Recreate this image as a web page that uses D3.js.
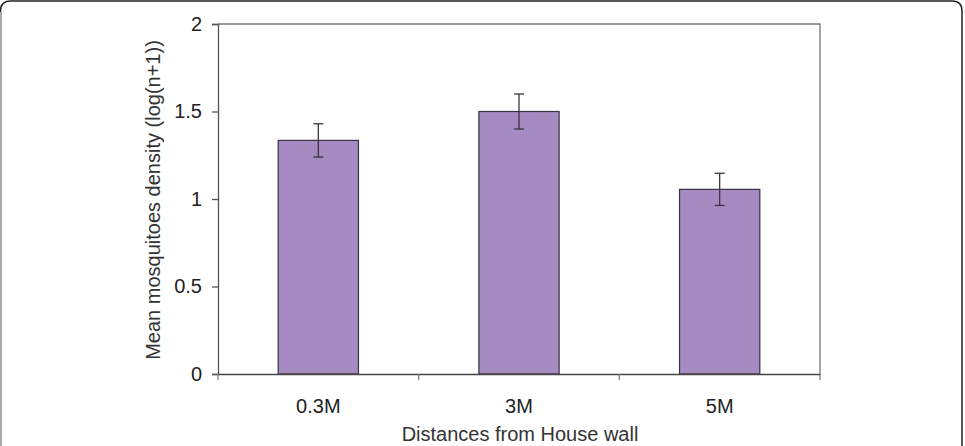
<!DOCTYPE html>
<html>
<head>
<meta charset="utf-8">
<script src="https://cdn.jsdelivr.net/npm/d3@7"></script>
<style>
  body { margin: 0; background: #fff; }
  text { font-family: "Liberation Sans", Arial, sans-serif; }
</style>
</head>
<body>
<div id="chart"></div>
<script>
const categories = ['0.3M', '3M', '5M'];
const means = [1.335, 1.5, 1.055];
const errors = [0.095, 0.1, 0.092];
const yTicks = [0, 0.5, 1, 1.5, 2];

const width = 965;
const height = 446;
const plotLeft = 218, plotRight = 820, plotTop = 24, plotBottom = 374;

const svg = d3.select('#chart')
              .append('svg')
              .attr('width', width)
              .attr('height', height);

// outer frame
svg.append('path')
   .attr('d', 'M0.5,460 L0.5,11 Q0.5,1 10.5,1 L952,1 Q962,1 962,11 L962,460')
   .attr('fill', 'none')
   .attr('stroke', '#222')
   .attr('stroke-width', 1.5);
svg.append('line')
   .attr('x1', 1).attr('x2', 1).attr('y1', 12).attr('y2', height)
   .attr('stroke', '#aaa').attr('stroke-width', 2);

const xScale = d3.scaleBand()
                 .domain(categories)
                 .range([plotLeft, plotRight]);

const yScale = d3.scaleLinear()
                 .domain([0, 2])
                 .range([plotBottom, plotTop]);

// plot area border (top and right)
svg.append('path')
   .attr('d', 'M' + plotLeft + ',' + plotTop + 'H' + plotRight + 'V' + plotBottom)
   .attr('fill', 'none')
   .attr('stroke', '#777')
   .attr('stroke-width', 1.3);

const barW = xScale.bandwidth() * 0.4;
const cx = (i) => xScale(categories[i]) + xScale.bandwidth() / 2;

svg.selectAll('rect.bar')
   .data(means)
   .enter()
   .append('rect')
   .attr('class', 'bar')
   .attr('x', (d, i) => cx(i) - barW / 2)
   .attr('y', (d) => yScale(d))
   .attr('width', barW)
   .attr('height', (d) => plotBottom - yScale(d))
   .attr('fill', '#a58bc2')
   .attr('stroke', '#3a3340')
   .attr('stroke-width', 1.2);

// error bars
const eb = svg.selectAll('g.err')
              .data(means)
              .enter()
              .append('g')
              .attr('class', 'err')
              .attr('stroke', '#3a3340')
              .attr('stroke-width', 1.3);
eb.append('line')
  .attr('x1', (d, i) => cx(i))
  .attr('x2', (d, i) => cx(i))
  .attr('y1', (d, i) => yScale(d + errors[i]))
  .attr('y2', (d, i) => yScale(d - errors[i]));
[1, -1].forEach((s) => {
  eb.append('line')
    .attr('x1', (d, i) => cx(i) - 5)
    .attr('x2', (d, i) => cx(i) + 5)
    .attr('y1', (d, i) => yScale(d + s * errors[i]))
    .attr('y2', (d, i) => yScale(d + s * errors[i]));
});

// y axis
const yAxis = d3.axisLeft(yScale)
                .tickValues(yTicks)
                .tickFormat(d3.format('~g'))
                .tickSize(6)
                .tickPadding(10);
const gy = svg.append('g')
              .attr('id', 'y-axis')
              .attr('transform', 'translate(' + plotLeft + ',0)')
              .call(yAxis);
gy.select('.domain').attr('stroke', '#555').attr('stroke-width', 1.3);
gy.selectAll('.tick line').attr('stroke', '#555').attr('stroke-width', 1.3);
gy.selectAll('.tick text').attr('font-size', 20).attr('fill', '#222')
  .attr('font-family', '"Liberation Sans", Arial, sans-serif');

// x axis: ticks between categories
const xAxis = d3.axisBottom(xScale).tickSize(0).tickPadding(25);
const gx = svg.append('g')
              .attr('id', 'x-axis')
              .attr('transform', 'translate(0,' + plotBottom + ')')
              .call(xAxis);
gx.select('.domain').attr('stroke', '#444').attr('stroke-width', 1.5);
gx.selectAll('.tick text').attr('font-size', 20).attr('fill', '#222')
  .attr('font-family', '"Liberation Sans", Arial, sans-serif');
const bounds = categories.map((c) => xScale(c)).concat([plotRight]);
svg.selectAll('line.xtick')
   .data(bounds)
   .enter()
   .append('line')
   .attr('class', 'xtick')
   .attr('x1', (d) => d).attr('x2', (d) => d)
   .attr('y1', plotBottom).attr('y2', plotBottom + 6)
   .attr('stroke', '#777').attr('stroke-width', 1.2);

// titles
svg.append('text')
   .attr('transform', 'translate(160,' + ((plotTop + plotBottom) / 2 + 1) + ') rotate(-90)')
   .attr('text-anchor', 'middle')
   .attr('font-size', 20)
   .attr('fill', '#333')
   .text('Mean mosquitoes density (log(n+1))');

svg.append('text')
   .attr('x', 520)
   .attr('y', 441)
   .attr('text-anchor', 'middle')
   .attr('font-size', 20)
   .attr('fill', '#333')
   .text('Distances from House wall');
</script>
</body>
</html>
